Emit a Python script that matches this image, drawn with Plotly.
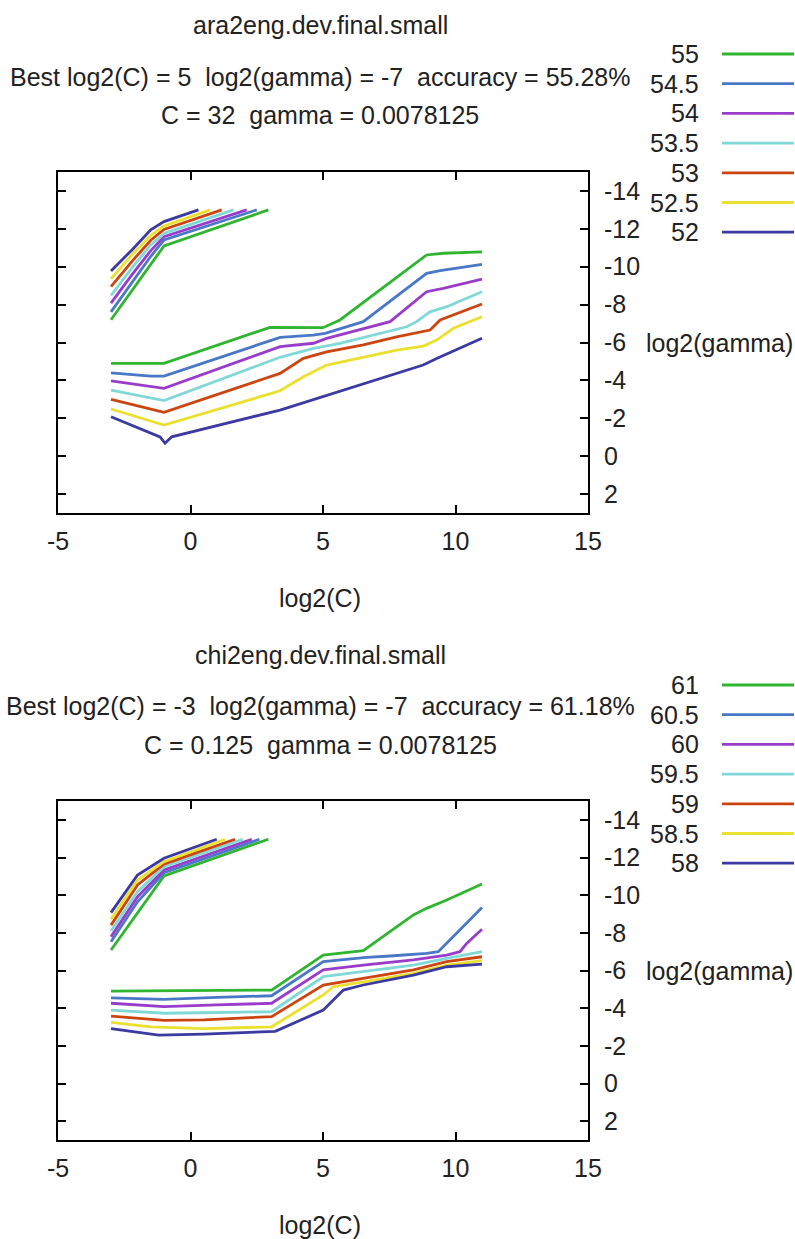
import plotly.graph_objects as go

W, H = 795, 1239
FONT = "Liberation Sans, Arial, sans-serif"
TXT = "#222222"

# contour levels (accuracy %) and their line colours, highest first
LEVELS_ARA = ["55", "54.5", "54", "53.5", "53", "52.5", "52"]
LEVELS_CHI = ["61", "60.5", "60", "59.5", "59", "58.5", "58"]
LINE_COLORS = ["#2fb52f", "#4878c6", "#9a3ccb", "#80d9d6", "#cc4510", "#ebe02e", "#3a3aa2"]

# ara2eng: upper-left branch of each contour (log2(C), log2(gamma))
ARA_HI_X = [
    [-3, -1, 2.94],
    [-3, -2.2, -1.5, -1, 2.5],
    [-3, -2.2, -1.5, -1, 2.12],
    [-3, -2.2, -1.5, -1, 1.62],
    [-3, -2.2, -1.5, -1, 1.18],
    [-3, -2.2, -1.5, -1, 0.74],
    [-3, -2.2, -1.5, -1, 0.3],
]
ARA_HI_Y = [
    [-7.2, -11.1, -13.0],
    [-7.62, -9.2, -10.55, -11.41, -13.0],
    [-8.08, -9.6, -10.85, -11.59, -13.0],
    [-8.48, -9.95, -11.15, -11.76, -13.0],
    [-8.95, -10.3, -11.4, -11.97, -13.0],
    [-9.36, -10.65, -11.65, -12.15, -13.0],
    [-9.78, -10.9, -11.95, -12.38, -13.0],
]

# ara2eng: lower branch of each contour
ARA_LO_X = [
    [-3, -1, 3, 5.0, 5.64, 8.91, 9.54, 10.48, 11],
    [-3, -2.4, -1.5, -1, 3.38, 4.63, 5.08, 6.52, 8.91, 9.42, 11],
    [-3, -1, 3.38, 4.64, 5.14, 6.52, 7.53, 8.91, 9.54, 11],
    [-3, -1, 3.38, 4.64, 5.64, 6.64, 8.16, 8.53, 9.04, 9.67, 11],
    [-3, -1, 3.38, 4.26, 5.14, 6.52, 7.78, 8.66, 9.04, 9.42, 11],
    [-3, -1, 3.38, 4.26, 5.14, 6.52, 7.78, 8.78, 9.29, 9.92, 11],
    [-3, -1.15, -0.96, -0.71, 3.38, 8.78, 9.29, 11],
]
ARA_LO_Y = [
    [-4.9, -4.9, -6.8, -6.78, -7.19, -10.62, -10.71, -10.76, -10.78],
    [-4.40, -4.33, -4.23, -4.23, -6.27, -6.39, -6.48, -7.1, -9.65, -9.79, -10.13],
    [-3.98, -3.58, -5.78, -5.96, -6.22, -6.75, -7.1, -8.68, -8.86, -9.35],
    [-3.49, -2.93, -5.22, -5.69, -5.96, -6.3, -6.83, -7.1, -7.62, -7.89, -8.68],
    [-3.0, -2.31, -4.37, -5.16, -5.51, -5.87, -6.3, -6.57, -6.66, -7.19, -8.03],
    [-2.49, -1.64, -3.45, -4.19, -4.81, -5.22, -5.6, -5.81, -6.13, -6.75, -7.36],
    [-2.08, -1.02, -0.68, -1.02, -2.43, -4.81, -5.16, -6.22],
]

# chi2eng: upper-left branch of each contour
CHI_HI_X = [
    [-3, -1, 2.94],
    [-3, -2, -1, 2.6],
    [-3, -2, -1, 2.31],
    [-3, -2, -1, 1.97],
    [-3, -2, -1, 1.68],
    [-3, -2, -1, 1.3],
    [-3, -2, -1, 0.99],
]
CHI_HI_Y = [
    [-7.09, -11.02, -12.97],
    [-7.53, -9.65, -11.19, -12.97],
    [-7.79, -9.92, -11.34, -12.97],
    [-8.1, -10.18, -11.51, -12.97],
    [-8.41, -10.54, -11.65, -12.97],
    [-8.72, -10.8, -11.78, -12.97],
    [-9.07, -11.07, -11.96, -12.97],
]

# chi2eng: lower branch of each contour
CHI_LO_X = [
    [-3, 3.06, 5.01, 5.64, 6.52, 8.41, 8.91, 9.67, 11],
    [-3, -1, 1, 3.06, 5.01, 6.64, 7.53, 8.91, 9.35, 10.17, 11],
    [-3, -1, 1, 3.06, 5.01, 6.52, 8.41, 9.67, 10.17, 10.42, 11],
    [-3, -1, 1, 3.06, 5.01, 6.52, 8.41, 9.67, 11],
    [-3, -1, 0.5, 3.06, 5.01, 6.52, 8.41, 9.67, 11],
    [-3, -1.5, 0.5, 3.06, 5.01, 5.39, 6.52, 8.41, 9.67, 11],
    [-3, -1.2, 0.5, 3.2, 5.01, 5.77, 6.52, 8.41, 9.67, 11],
]
CHI_LO_Y = [
    [-4.91, -4.96, -6.82, -6.91, -7.05, -8.95, -9.30, -9.74, -10.59],
    [-4.55, -4.47, -4.57, -4.66, -6.47, -6.7, -6.77, -6.91, -7.0, -8.15, -9.35],
    [-4.26, -4.08, -4.17, -4.26, -6.03, -6.29, -6.56, -6.82, -7.0, -7.44, -8.19],
    [-3.9, -3.73, -3.77, -3.81, -5.67, -5.94, -6.29, -6.64, -7.0],
    [-3.58, -3.35, -3.38, -3.55, -5.23, -5.58, -6.03, -6.47, -6.73],
    [-3.25, -3.01, -2.91, -3.01, -4.7, -5.14, -5.4, -5.85, -6.29, -6.52],
    [-2.91, -2.57, -2.62, -2.77, -3.9, -4.96, -5.23, -5.76, -6.2, -6.34],
]

X_TICKS = [-5, 0, 5, 10, 15]
Y_TICKS = [-14, -12, -10, -8, -6, -4, -2, 0, 2]

PANELS = [
    dict(
        name="ara2eng.dev.final.small",
        best="Best log2(C) = 5 \u00a0log2(gamma) = -7 \u00a0accuracy = 55.28%",
        params="C = 32 \u00a0gamma = 0.0078125",
        levels=LEVELS_ARA,
        hi=(ARA_HI_X, ARA_HI_Y), lo=(ARA_LO_X, ARA_LO_Y),
        box=(172, 513), title_y=(25, 77, 115), legend_top=54, xlabel_y=598,
    ),
    dict(
        name="chi2eng.dev.final.small",
        best="Best log2(C) = -3 \u00a0log2(gamma) = -7 \u00a0accuracy = 61.18%",
        params="C = 0.125 \u00a0gamma = 0.0078125",
        levels=LEVELS_CHI,
        hi=(CHI_HI_X, CHI_HI_Y), lo=(CHI_LO_X, CHI_LO_Y),
        box=(801, 1140), title_y=(655, 706, 745), legend_top=685, xlabel_y=1225,
    ),
]

BOX_LEFT, BOX_RIGHT = 58, 588


def px_x(px):
    return px / W


def px_y(py):
    return 1 - py / H


fig = go.Figure()
annotations = []
shapes = []

for k, p in enumerate(PANELS):
    suffix = "" if k == 0 else str(k + 1)
    xref, yref = "x" + suffix, "y" + suffix
    for branch in (p["hi"], p["lo"]):
        xs_all, ys_all = branch
        for i, (xs, ys) in enumerate(zip(xs_all, ys_all)):
            fig.add_trace(go.Scatter(
                x=xs, y=ys, mode="lines", xaxis=xref, yaxis=yref,
                line=dict(color=LINE_COLORS[i], width=2.8),
                name=p["levels"][i], showlegend=False, hoverinfo="skip",
            ))

    top, bottom = p["box"]
    axis_common = dict(
        showline=True, linecolor="black", linewidth=2, mirror="ticks",
        ticks="inside", ticklen=8, tickwidth=2, tickcolor="black",
        showgrid=False, zeroline=False, automargin=False,
        tickfont=dict(family=FONT, size=25, color=TXT),
    )
    fig.update_layout({
        "xaxis" + suffix: dict(
            axis_common, domain=[px_x(BOX_LEFT), px_x(BOX_RIGHT)],
            anchor=yref, range=[-5, 15], tickvals=X_TICKS,
            ticktext=[str(v) for v in X_TICKS],
            ticklabelstandoff=5,
        ),
        "yaxis" + suffix: dict(
            axis_common, domain=[px_y(bottom), px_y(top)],
            anchor=xref, range=[3, -15], tickvals=Y_TICKS,
            ticktext=[str(v) for v in Y_TICKS], side="right",
            ticklabelstandoff=9,
        ),
    })

    cx = px_x(320)
    for text, ty in zip((p["name"], p["best"], p["params"]), p["title_y"]):
        annotations.append(dict(
            text=text, x=cx, y=px_y(ty), xref="paper", yref="paper",
            xanchor="center", yanchor="middle", showarrow=False,
            font=dict(family=FONT, size=25, color=TXT),
        ))
    annotations.append(dict(
        text="log2(C)", x=px_x(320), y=px_y(p["xlabel_y"]), xref="paper", yref="paper",
        xanchor="center", yanchor="middle", showarrow=False,
        font=dict(family=FONT, size=25, color=TXT),
    ))
    annotations.append(dict(
        text="log2(gamma)", x=px_x(644), y=-6, xref="paper", yref=yref,
        xanchor="left", yanchor="middle", showarrow=False,
        font=dict(family=FONT, size=25, color=TXT),
    ))

    # key: level label followed by a line sample
    for i, lvl in enumerate(p["levels"]):
        ly = p["legend_top"] + i * 29.7
        annotations.append(dict(
            text=lvl, x=px_x(701), y=px_y(ly), xref="paper", yref="paper",
            xanchor="right", yanchor="middle", showarrow=False,
            font=dict(family=FONT, size=25, color=TXT),
        ))
        shapes.append(dict(
            type="line", xref="paper", yref="paper",
            x0=px_x(722), x1=px_x(794), y0=px_y(ly), y1=px_y(ly),
            line=dict(color=LINE_COLORS[i], width=2.8),
        ))

fig.update_layout(
    width=W, height=H,
    margin=dict(l=0, r=0, t=0, b=0, autoexpand=False),
    paper_bgcolor="white", plot_bgcolor="white",
    showlegend=False,
    annotations=annotations, shapes=shapes,
    font=dict(family=FONT, size=25, color=TXT),
)

fig.write_html("out.html")
